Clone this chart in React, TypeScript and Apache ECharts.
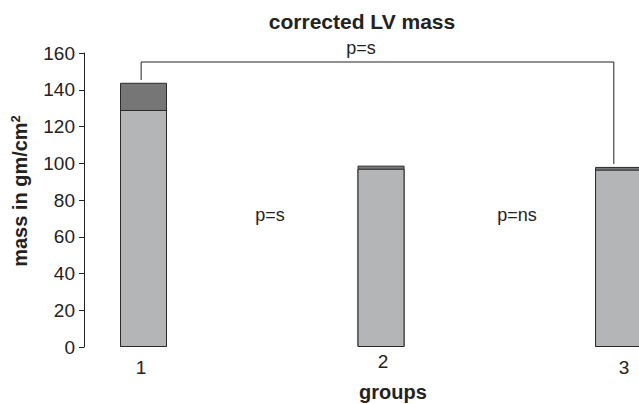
import React, { useEffect, useRef } from "react";
import * as echarts from "echarts";

const groups = [1, 2, 3];
const baseValues = [129, 97, 96.5];
const topValues = [14.8, 1.7, 1.5];
const groupLabelPositions = [0.99, 2.008, 3.023];
const bracketX = [0.99, 0.99, 2.98, 2.98];
const bracketY = [145.3, 155.1, 155.1, 99.6];

const FONT = "'Liberation Sans', Arial, sans-serif";

export default function App() {
  const ref = useRef<HTMLDivElement>(null);
  useEffect(() => {
    if (!ref.current) return;
    const chart = echarts.init(ref.current, null, { renderer: "svg" });
    const totals = baseValues.map((b, i) => b + topValues[i]);
    chart.setOption({
      animation: false,
      backgroundColor: "#ffffff",
      textStyle: { fontFamily: FONT },
      grid: { left: 84, top: 53, bottom: 57, right: 0, containLabel: false },
      xAxis: {
        type: "value",
        min: 0.7495,
        max: 3.086,
        axisLine: { show: false },
        axisTick: { show: false },
        splitLine: { show: false },
        axisLabel: {
          customValues: groupLabelPositions,
          color: "#222",
          fontSize: 19,
          fontFamily: FONT,
          margin: 5,
          formatter: (v: number) => {
            const r = Math.round(v);
            return r === 2 ? `{up|${r}}` : `{dn|${r}}`;
          },
          rich: {
            up: { fontSize: 19, color: "#222", fontFamily: FONT },
            dn: { fontSize: 19, color: "#222", fontFamily: FONT, padding: [6, 0, 0, 0] },
          },
        },
      },
      yAxis: {
        type: "value",
        min: 0,
        max: 160,
        interval: 20,
        axisLine: { show: true, lineStyle: { color: "#222", width: 1 } },
        axisTick: { show: true, length: 5, lineStyle: { color: "#222" } },
        splitLine: { show: false },
        axisLabel: { color: "#222", fontSize: 19, fontFamily: FONT, margin: 9 },
      },
      graphic: [
        {
          type: "text",
          x: 362,
          y: 21,
          style: {
            text: "corrected LV mass",
            font: `bold 21px ${FONT}`,
            fill: "#222",
            textAlign: "center",
            textVerticalAlign: "middle",
          },
        },
        {
          type: "text",
          x: 361,
          y: 48,
          style: { text: "p=s", font: `18px ${FONT}`, fill: "#222", textAlign: "center", textVerticalAlign: "middle" },
        },
        {
          type: "text",
          x: 270,
          y: 215,
          style: { text: "p=s", font: `18px ${FONT}`, fill: "#222", textAlign: "center", textVerticalAlign: "middle" },
        },
        {
          type: "text",
          x: 517,
          y: 215,
          style: { text: "p=ns", font: `18px ${FONT}`, fill: "#222", textAlign: "center", textVerticalAlign: "middle" },
        },
        {
          type: "text",
          x: 393,
          y: 392,
          style: { text: "groups", font: `bold 20px ${FONT}`, fill: "#222", textAlign: "center", textVerticalAlign: "middle" },
        },
        {
          type: "text",
          x: 20,
          y: 191,
          rotation: Math.PI / 2,
          style: {
            text: "mass in gm/cm{sup|2}",
            font: `bold 20px ${FONT}`,
            fill: "#222",
            textAlign: "center",
            textVerticalAlign: "middle",
            rich: {
              sup: { font: `bold 13px ${FONT}`, fill: "#222", verticalAlign: "top", padding: [0, 0, 9, 0] },
            },
          },
        },
      ],
      series: [
        {
          type: "bar",
          barWidth: 47,
          data: groups.map((g, i) => [g, totals[i]]),
          itemStyle: { color: "#767676", borderColor: "#2a2a2a", borderWidth: 1 },
        },
        {
          type: "bar",
          barWidth: 47,
          barGap: "-100%",
          data: groups.map((g, i) => [g, baseValues[i]]),
          itemStyle: { color: "#b4b5b7", borderColor: "#2a2a2a", borderWidth: 1 },
        },
        {
          type: "line",
          data: bracketX.map((x, i) => [x, bracketY[i]]),
          symbol: "none",
          clip: false,
          lineStyle: { color: "#222", width: 1 },
          silent: true,
        },
      ],
    });
    return () => chart.dispose();
  }, []);
  return <div ref={ref} style={{ position: "absolute", left: 0, top: 0, width: 639, height: 404 }} />;
}
